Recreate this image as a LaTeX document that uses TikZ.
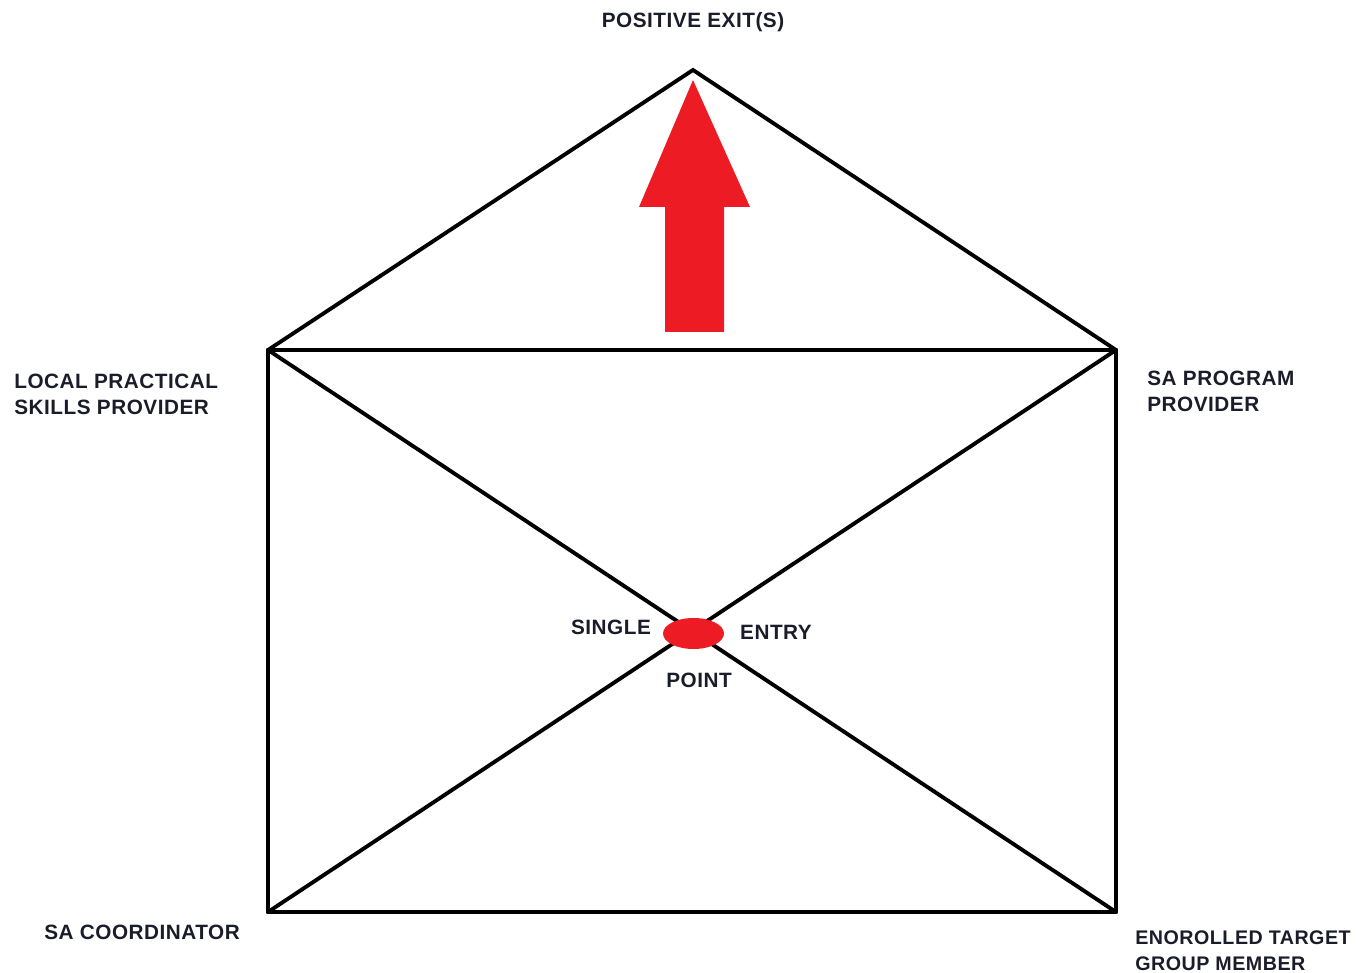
\documentclass[tikz,border=0pt]{standalone}
\usepackage{fontspec}
\setmainfont{Liberation Sans}
\newfontfamily\labelfont[LetterSpace=2.5]{Liberation Sans}
\usetikzlibrary{positioning,shapes.geometric}
\definecolor{paintred}{HTML}{ED1C24}
\definecolor{labeltext}{HTML}{1A1C2A}

\begin{document}
\begin{tikzpicture}[x=0.02cm,y=-0.02cm,
  frame/.style={line width=2.8pt,line cap=round,line join=round},
  diag/.style={line width=2.2pt,line cap=round},
  lbl/.style={font=\labelfont\fontsize{11.8}{14.7}\selectfont\bfseries,text=labeltext,inner sep=0pt,align=left},
]
  \useasboundingbox (0,0) rectangle (1360,973);

  % Envelope corners
  \coordinate (apex) at (693,70);
  \coordinate (tl) at (268,350);
  \coordinate (tr) at (1116,350);
  \coordinate (bl) at (268,912);
  \coordinate (br) at (1116,912);

  % Flap and body
  \draw[diag] (tl) -- (apex) -- (tr);
  \draw[diag] (tl) -- (br);
  \draw[diag] (tr) -- (bl);
  \draw[frame] (tl) rectangle (br);

  % Single entry point
  \node[ellipse,fill=paintred,minimum width=1.22cm,minimum height=0.62cm,inner sep=0pt] (entry) at (693.5,633.5) {};

  % Exit arrow
  \fill[paintred] (665,332) -- (665,207) -- (639,207) -- (693,80) -- (750,207) -- (724,207) -- (724,332) -- cycle;

  % Labels
  \node[lbl] (exit) at (693,22) {POSITIVE EXIT(S)};
  \node[lbl,anchor=west] (local) at (14,394) {LOCAL PRACTICAL\\SKILLS PROVIDER};
  \node[lbl,anchor=west] (program) at (1147,391) {SA PROGRAM\\PROVIDER};
  \node[lbl] (single) at (611,627) {SINGLE};
  \node[lbl] (entrytxt) at (776,632) {ENTRY};
  \node[lbl] (point) at (699,680) {POINT};
  \node[lbl,anchor=west] (coord) at (44,932) {SA COORDINATOR};
  \node[lbl,anchor=west,font=\labelfont\fontsize{11.2}{14.7}\selectfont\bfseries] (member) at (1135,951) {ENOROLLED TARGET\\GROUP MEMBER};
\end{tikzpicture}
\end{document}
